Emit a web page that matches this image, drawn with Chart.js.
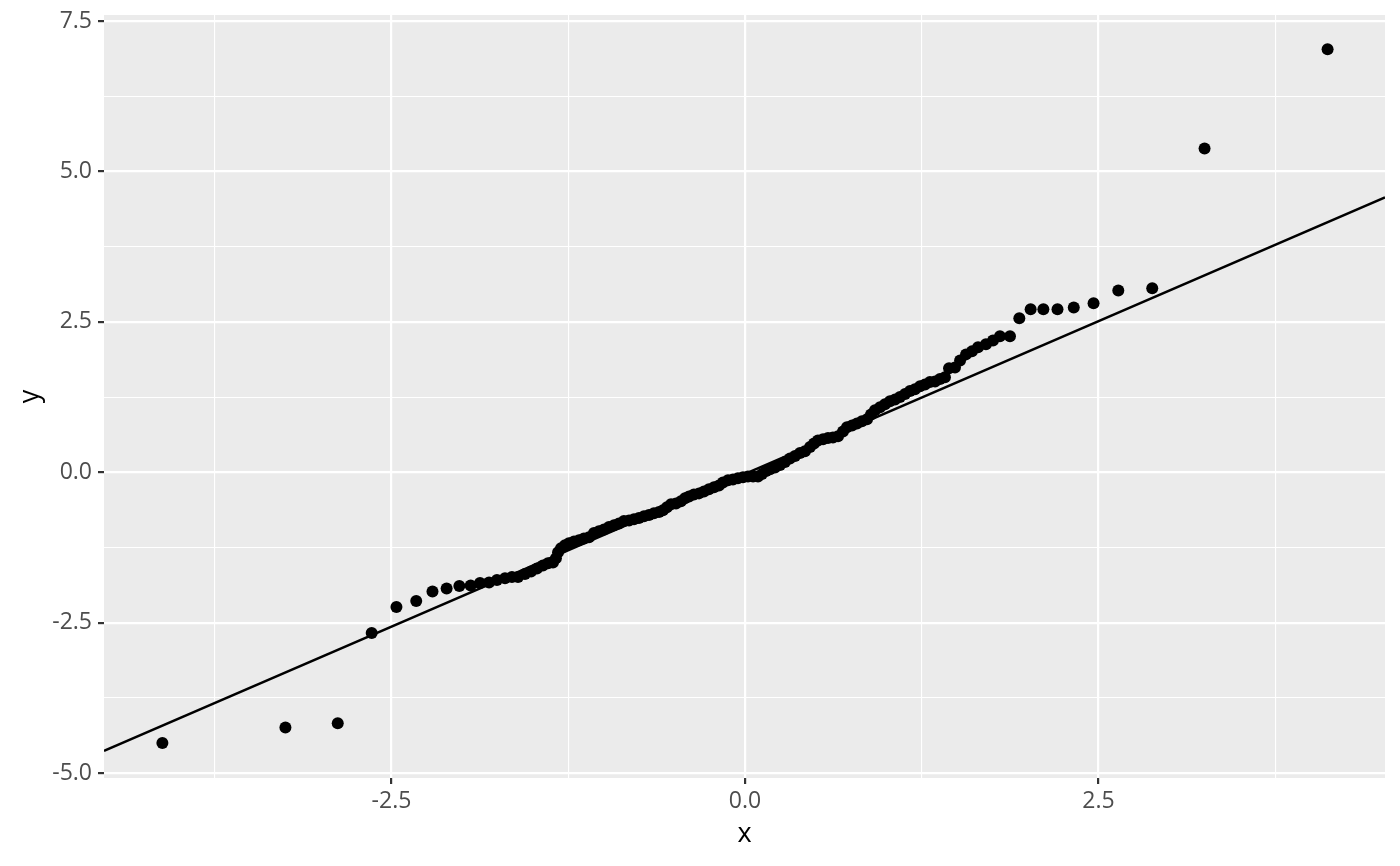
<!DOCTYPE html>
<html>
<head>
<meta charset="utf-8">
<script src="https://cdn.jsdelivr.net/npm/chart.js@4/dist/chart.umd.min.js"></script>
<style>
  html, body { margin: 0; padding: 0; background: #fff; }
  #wrap { width: 1400px; height: 866px; }
</style>
</head>
<body>
<div id="wrap"><canvas id="qq"></canvas></div>
<script>
// theoretical quantiles (x) and sample values (y)
const theoX = [
  -4.12, -3.25, -2.88, -2.64, -2.465, -2.325, -2.21, -2.11, -2.02, -1.94,
  -1.874, -1.81, -1.754, -1.697, -1.648, -1.605, -1.556, -1.513, -1.471, -1.429,
  -1.393, -1.358, -1.337, -1.322, -1.301, -1.273, -1.245, -1.209, -1.174, -1.139,
  -1.103, -1.068, -1.033, -0.997, -0.962, -0.926, -0.891, -0.856, -0.82, -0.785,
  -0.75, -0.714, -0.679, -0.644, -0.608, -0.58, -0.552, -0.523, -0.488, -0.453,
  -0.424, -0.396, -0.361, -0.325, -0.29, -0.255, -0.219, -0.184, -0.156, -0.12,
  -0.085, -0.05, -0.014, 0.021, 0.057, 0.092, 0.12, 0.149, 0.177, 0.212,
  0.248, 0.283, 0.318, 0.354, 0.389, 0.424, 0.46, 0.488, 0.516, 0.552,
  0.587, 0.622, 0.658, 0.693, 0.721, 0.757, 0.792, 0.827, 0.863, 0.891,
  0.919, 0.955, 0.99, 1.025, 1.061, 1.096, 1.132, 1.167, 1.202, 1.238,
  1.273, 1.308, 1.344, 1.379, 1.414, 1.443, 1.485, 1.521, 1.563, 1.605,
  1.648, 1.704, 1.754, 1.803, 1.874, 1.94, 2.02, 2.11, 2.21, 2.325,
  2.465, 2.64, 2.88, 3.25, 4.12
];
const sampleY = [
  -4.50, -4.24, -4.17, -2.67, -2.24, -2.14, -1.98, -1.93, -1.89, -1.88,
  -1.84, -1.83, -1.79, -1.76, -1.74, -1.74, -1.69, -1.65, -1.60, -1.55,
  -1.51, -1.50, -1.43, -1.33, -1.26, -1.21, -1.18, -1.15, -1.13, -1.10,
  -1.08, -1.01, -0.98, -0.95, -0.91, -0.88, -0.85, -0.81, -0.80, -0.78,
  -0.76, -0.73, -0.71, -0.68, -0.66, -0.63, -0.58, -0.53, -0.52, -0.48,
  -0.43, -0.40, -0.37, -0.35, -0.32, -0.28, -0.25, -0.22, -0.17, -0.13,
  -0.12, -0.10, -0.08, -0.07, -0.07, -0.07, -0.03, 0.02, 0.05, 0.08,
  0.12, 0.17, 0.23, 0.27, 0.32, 0.35, 0.42, 0.48, 0.53, 0.55,
  0.57, 0.58, 0.60, 0.68, 0.75, 0.78, 0.81, 0.85, 0.88, 0.96,
  1.03, 1.08, 1.13, 1.18, 1.21, 1.25, 1.30, 1.35, 1.38, 1.43,
  1.46, 1.50, 1.51, 1.55, 1.58, 1.73, 1.74, 1.86, 1.96, 2.01,
  2.08, 2.13, 2.19, 2.26, 2.26, 2.56, 2.71, 2.71, 2.71, 2.74,
  2.81, 3.02, 3.06, 5.38, 7.03
];

// reference line end points (at the panel edges)
const lineX = [-4.533, 4.526];
const lineY = [-4.63, 4.57];

// axis ranges and tick labels
const xRange = [-4.533, 4.526];
const yRange = [-5.08, 7.6];
const xTickLabels = ["-2.5", "0.0", "2.5"];
const yTickLabels = ["-5.0", "-2.5", "0.0", "2.5", "5.0", "7.5"];

const points = theoX.map((x, i) => ({ x: x, y: sampleY[i] }));
const linePts = lineX.map((x, i) => ({ x: x, y: lineY[i] }));

function isMajor(v) {
  return Math.abs(v / 2.5 - Math.round(v / 2.5)) < 1e-6;
}
function labelFor(v, list) {
  if (!isMajor(v)) return "";
  const s = v.toFixed(1);
  return list.includes(s) ? s : "";
}

const panelBg = {
  id: "panelBg",
  beforeDraw(chart) {
    const { ctx, chartArea: a } = chart;
    ctx.save();
    ctx.fillStyle = "#EBEBEB";
    ctx.fillRect(a.left, a.top, a.right - a.left, a.bottom - a.top);
    ctx.restore();
  }
};

const gridOpts = {
  color: "#FFFFFF",
  lineWidth: (c) => isMajor(c.tick.value) ? 2.2 : 1.1,
  tickColor: (c) => isMajor(c.tick.value) ? "#333333" : "rgba(0,0,0,0)",
  tickWidth: 2.2,
  tickLength: 6,
  drawTicks: true
};

new Chart(document.getElementById("qq"), {
  type: "scatter",
  data: {
    datasets: [
      {
        data: points,
        backgroundColor: "#000000",
        borderWidth: 0,
        pointRadius: 6,
        pointHoverRadius: 6
      },
      {
        data: linePts,
        showLine: true,
        borderColor: "#000000",
        borderWidth: 2.5,
        pointRadius: 0,
        fill: false
      }
    ]
  },
  options: {
    responsive: true,
    maintainAspectRatio: false,
    animation: false,
    events: [],
    layout: { padding: { top: 15, right: 15, left: 0, bottom: 0 } },
    plugins: {
      legend: { display: false },
      tooltip: { enabled: false }
    },
    scales: {
      x: {
        type: "linear",
        min: xRange[0],
        max: xRange[1],
        grid: gridOpts,
        border: { display: false },
        ticks: {
          stepSize: 1.25,
          includeBounds: false,
          autoSkip: false,
          maxRotation: 0,
          padding: 4,
          color: "#4D4D4D",
          font: { family: "'Open Sans'", size: 23 },
          callback: (v) => labelFor(v, xTickLabels)
        },
        title: {
          display: true,
          text: "x",
          color: "#000000",
          font: { family: "'Open Sans'", size: 27 },
          padding: { top: 0, bottom: 15 }
        },
        afterFit: (s) => {
          s.height = 88;
          s.paddingLeft = 0;
          s.paddingRight = 0;
        }
      },
      y: {
        type: "linear",
        min: yRange[0],
        max: yRange[1],
        grid: gridOpts,
        border: { display: false },
        ticks: {
          stepSize: 1.25,
          includeBounds: false,
          autoSkip: false,
          padding: 6,
          color: "#4D4D4D",
          font: { family: "'Open Sans'", size: 23 },
          callback: (v) => labelFor(v, yTickLabels)
        },
        title: {
          display: true,
          text: "y",
          color: "#000000",
          font: { family: "'Open Sans'", size: 27 },
          padding: { top: 14, bottom: 0 }
        },
        afterFit: (s) => {
          s.width = 104;
          s.paddingTop = 0;
          s.paddingBottom = 0;
        }
      }
    }
  },
  plugins: [panelBg]
});
</script>
</body>
</html>
